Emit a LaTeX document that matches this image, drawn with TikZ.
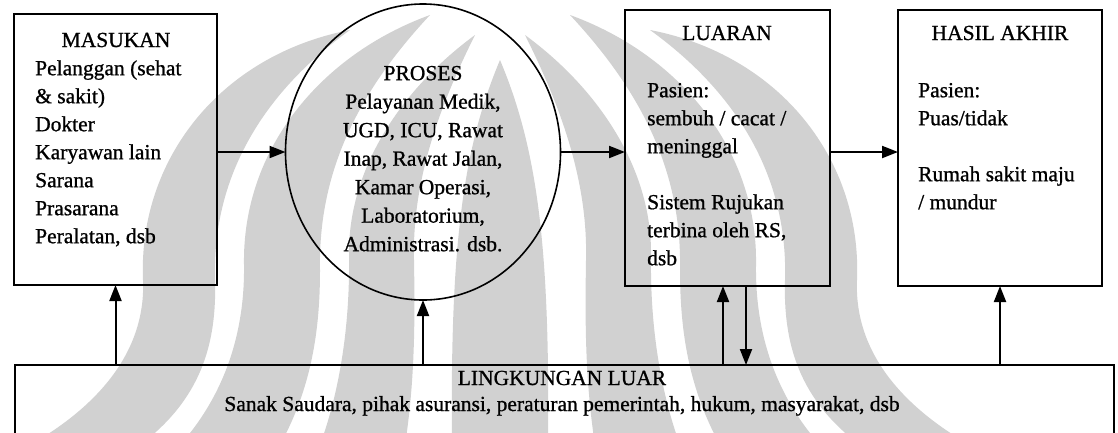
\documentclass[tikz,border=0pt]{standalone}
\usepackage{fontspec}
\setmainfont{Liberation Serif}[FakeBold=0.9]
\usetikzlibrary{arrows.meta,shapes.geometric}
\begin{document}
\begin{tikzpicture}[x=1pt,y=-1pt,
  box/.style={draw, line width=2.1pt, inner sep=0, outer sep=0, anchor=north west},
  conn/.style={line width=2pt, -{Triangle[length=16pt,width=12pt]}},
  txt/.style={inner sep=0, font=\fontsize{21.5}{28}\selectfont},
  leaf/.style={fill=black!18, draw=none},
]
\useasboundingbox (0,0) rectangle (1118,432);
\clip (0,0) rectangle (1118,432);

% faint emblem in the background: three curved leaves on each side of a
% central stem, the right side being the mirror image of the left
\foreach \side in {1,-1}{
  \begin{scope}[shift={(500,0)}, xscale=\side]
    % outer leaf
    \path[leaf] (-150,30) .. controls (-280,55) and (-362,160) .. (-357,280)
                .. controls (-354,350) and (-400,405) .. (-470,445)
                -- (-360,445)
                .. controls (-300,400) and (-283,345) .. (-285,280)
                .. controls (-288,180) and (-240,95) .. (-150,30) -- cycle;
    % middle leaf
    \path[leaf] (-70,15) .. controls (-180,55) and (-258,150) .. (-256,265)
                .. controls (-255,340) and (-280,400) .. (-320,445)
                -- (-220,445)
                .. controls (-190,390) and (-180,335) .. (-180,270)
                .. controls (-182,170) and (-140,90) .. (-70,15) -- cycle;
    % inner leaf
    \path[leaf] (-25,35) .. controls (-100,90) and (-152,170) .. (-151,255)
                .. controls (-150,325) and (-160,390) .. (-180,445)
                -- (-95,445)
                .. controls (-85,380) and (-85,320) .. (-86,260)
                .. controls (-88,180) and (-60,105) .. (-25,35) -- cycle;
  \end{scope}
}
% central stem
\path[leaf] (500,60) .. controls (462,150) and (450,250) .. (452,445)
            -- (548,445) .. controls (550,250) and (538,150) .. (500,60) -- cycle;

% main blocks
\node[box, minimum width=203, minimum height=271] (mas) at (14,14) {};
\node[draw, ellipse, line width=1.6pt, inner sep=0, outer sep=0,
      minimum width=275, minimum height=296] (proc) at (423,152) {};
\node[box, minimum width=205, minimum height=276] (lua) at (625,10) {};
\node[box, minimum width=204, minimum height=276] (has) at (898,10) {};
\node[box, minimum width=1099, minimum height=90] (lin) at (15,365) {};

% texts
\node[txt, anchor=base] (masT) at (116,47) {MASUKAN};
\node[txt, anchor=north west, align=left] (masB) at (35,55.4)
  {\strut Pelanggan (sehat\\ \& sakit)\\ Dokter\\ Karyawan lain\\ Sarana\\ Prasarana\\ Peralatan, dsb};

\node[txt, anchor=north, align=center, font=\fontsize{21.5}{28.5}\selectfont] (procB) at (423,60)
  {\strut PROSES\\ Pelayanan Medik,\\ UGD, ICU, Rawat\\ Inap, Rawat Jalan,\\ Kamar Operasi,\\ Laboratorium,\\ Administrasi. dsb.};

\node[txt, anchor=base] (luaT) at (727,40) {LUARAN};
\node[txt, anchor=north west, align=left] (luaB) at (647,77.4)
  {\strut Pasien:\\ sembuh / cacat /\\ meninggal\\[28pt] Sistem Rujukan\\ terbina oleh RS,\\ dsb};

\node[txt, anchor=base] (hasT) at (1000,40) {HASIL AKHIR};
\node[txt, anchor=north west, align=left] (hasB) at (918,77.4)
  {\strut Pasien:\\ Puas/tidak\\[28pt] Rumah sakit maju\\ / mundur};

\node[txt, anchor=base] (linT) at (562,385) {LINGKUNGAN LUAR};
\node[txt, anchor=base] (linB) at (562,411)
  {Sanak Saudara, pihak asuransi, peraturan pemerintah, hukum, masyarakat, dsb};

% flow between blocks
\draw[conn] (mas.east |- proc.west) -- (proc.west);
\draw[conn] (proc.east) -- (proc.east -| lua.west);
\draw[conn] (lua.east |- proc.east) -- (proc.east -| has.west);

% feedback points under LUARAN
\coordinate (luaUp) at ([xshift=-4.5pt]lua.south);
\coordinate (luaDn) at ([xshift=18.5pt]lua.south);

% influence of the environment
\draw[conn] (lin.north -| mas.south) -- (mas.south);
\draw[conn] (lin.north -| proc.south) -- (proc.south);
\draw[conn] (lin.north -| luaUp) -- (luaUp);
\draw[conn] (luaDn) -- (lin.north -| luaDn);
\draw[conn] (lin.north -| has.south) -- (has.south);
\end{tikzpicture}
\end{document}
